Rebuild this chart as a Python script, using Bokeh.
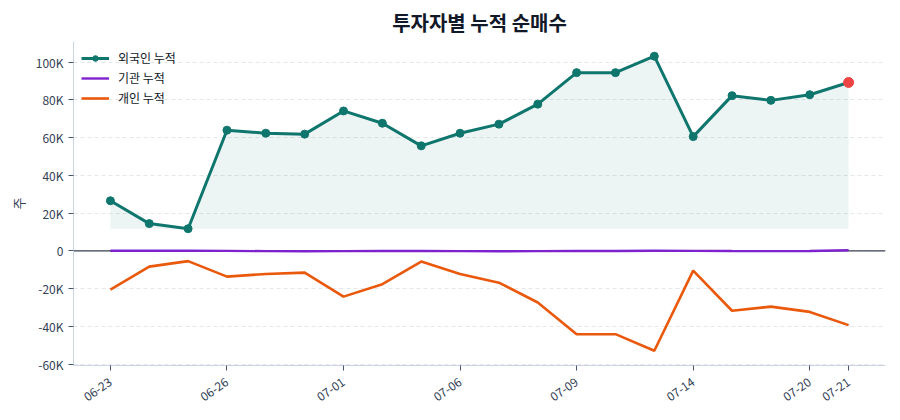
from bokeh.plotting import figure
from bokeh.models import FixedTicker, Span, Legend, LegendItem, Range1d
from bokeh.embed import file_html
from bokeh.resources import INLINE

dates = ["06-23", "06-24", "06-25", "06-26", "06-29", "06-30", "07-01", "07-02",
         "07-03", "07-06", "07-07", "07-08", "07-09", "07-10", "07-13", "07-14",
         "07-15", "07-16", "07-20", "07-21"]
foreign = [26600, 14500, 11800, 64000, 62400, 61900, 74200, 67700, 55700, 62400,
           67200, 77800, 94500, 94500, 103200, 60600, 82300, 79800, 82800, 89300]
institution = [150, 100, 200, 50, -100, -150, -100, -50, 0, -100,
               -150, -100, -50, 0, 150, 50, -50, -100, 0, 350]
individual = [-20500, -8300, -5400, -13600, -12200, -11500, -24200, -17600, -5600, -12200,
              -16800, -27300, -44100, -44100, -52900, -10400, -31700, -29500, -32300, -39300]
tick_idx = [0, 3, 6, 9, 12, 15, 18, 19]
y_ticks = [-60000, -40000, -20000, 0, 20000, 40000, 60000, 80000, 100000]

FONT = "Noto Sans CJK KR"
TEAL = "#0f766e"
PURPLE = "#7e22ce"
ORANGE = "#ea580c"

x = list(range(len(dates)))
Y0, Y1 = -60700, 111000

p = figure(width=900, height=420, output_backend="svg", toolbar_location=None,
           x_range=Range1d(-0.95, len(dates) - 1 + 0.95),
           y_range=Range1d(Y0, Y1),
           min_border_left=73, min_border_right=15, min_border_top=41, min_border_bottom=55,
           title="투자자별 누적 순매수")
p.outline_line_color = None
p.background_fill_color = "white"
p.border_fill_color = "white"

p.title.align = "center"
p.title.text_font = FONT
p.title.text_font_size = "20px"
p.title.text_font_style = "bold"
p.title.text_color = "#111827"
p.title.standoff = 9

base = min(foreign)
p.varea(x=x, y1=[base] * len(x), y2=foreign, fill_color=TEAL, fill_alpha=0.08)

zero = Span(location=0, dimension="width", line_color="#374151", line_width=1.2, level="underlay")
p.add_layout(zero)

r_f = p.line(x, foreign, line_color=TEAL, line_width=3)
r_fm = p.scatter(x, foreign, size=8, fill_color=TEAL, line_color=TEAL)
r_i = p.line(x, institution, line_color=PURPLE, line_width=2.4)
r_p = p.line(x, individual, line_color=ORANGE, line_width=2.6)
p.scatter([x[-1]], [foreign[-1]], size=10, fill_color="#ef4444", line_color="#ef4444")

legend = Legend(items=[LegendItem(label="외국인 누적", renderers=[r_f, r_fm]),
                       LegendItem(label="기관 누적", renderers=[r_i]),
                       LegendItem(label="개인 누적", renderers=[r_p])],
                location="top_left")
legend.border_line_color = None
legend.background_fill_alpha = 0.0
legend.label_text_font = FONT
legend.label_text_font_size = "12px"
legend.label_text_color = "#111827"
legend.glyph_width = 28
legend.glyph_height = 14
legend.label_height = 14
legend.spacing = 3
legend.padding = 4
legend.margin = 8
legend.label_standoff = 9
p.add_layout(legend)

p.xgrid.visible = False
p.ygrid.grid_line_color = "#e5e7eb"
p.ygrid.grid_line_dash = "4 3"
p.ygrid.ticker = FixedTicker(ticks=y_ticks)

p.yaxis.ticker = FixedTicker(ticks=y_ticks)
p.yaxis.major_label_overrides = {t: ("0" if t == 0 else f"{t // 1000}K") for t in y_ticks}
p.xaxis.ticker = FixedTicker(ticks=tick_idx)
p.xaxis.major_label_overrides = {i: dates[i] for i in tick_idx}
p.xaxis.major_label_orientation = 0.61
p.xaxis.major_label_standoff = 10

for ax in (p.xaxis, p.yaxis):
    ax.axis_line_color = "#cbd5e1"
    ax.major_tick_line_color = "#475569"
    ax.major_tick_out = 5
    ax.major_tick_in = 0
    ax.minor_tick_line_color = None
    ax.major_label_text_font = FONT
    ax.major_label_text_font_size = "12px"
    ax.major_label_text_color = "#334155"

p.yaxis.axis_label = "주"
p.yaxis.axis_label_text_font = FONT
p.yaxis.axis_label_text_font_size = "13px"
p.yaxis.axis_label_text_font_style = "normal"
p.yaxis.axis_label_text_color = "#334155"

open("out.html", "w").write(file_html(p, INLINE))
